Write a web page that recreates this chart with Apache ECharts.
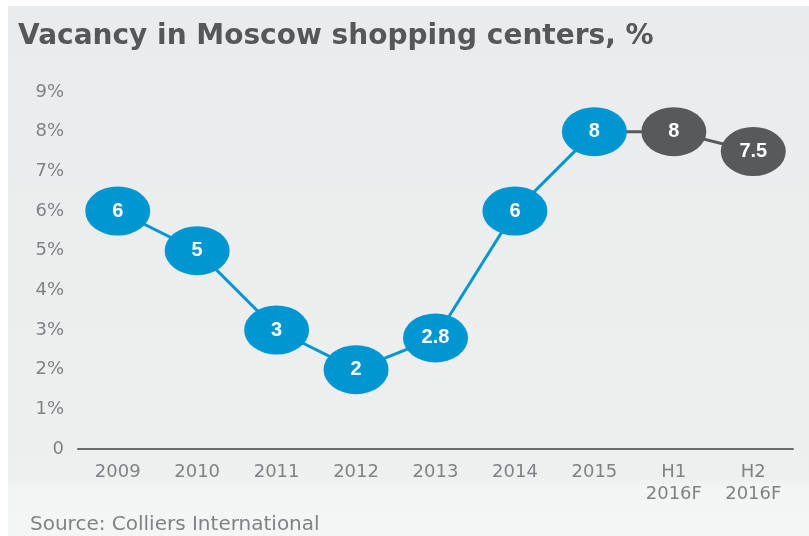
<!DOCTYPE html>
<html>
<head>
<meta charset="utf-8">
<script src="https://cdn.jsdelivr.net/npm/echarts@6/dist/echarts.min.js"></script>
<style>
  html, body { margin: 0; padding: 0; background: #fff; }
  #chart { position: absolute; left: 8px; top: 6px; width: 801px; height: 530px; }
</style>
</head>
<body>
<div id="chart"></div>
<script>
  const categories = ["2009", "2010", "2011", "2012", "2013", "2014", "2015", "H1\n2016F", "H2\n2016F"]
  const actual = [6, 5, 3, 2, 2.8, 6, 8]
  const forecast = [8, 7.5]
  const yTicks = [0, 1, 2, 3, 4, 5, 6, 7, 8, 9]

  const chart = echarts.init(document.getElementById("chart"))

  const blue = "#0096d2"
  const grey = "#58595b"
  const lastActual = actual.length - 1

  // forecast line starts from the last actual point (hidden marker there)
  const forecastData = [
    { value: [lastActual, actual[lastActual]], symbolSize: 0, label: { show: false } }
  ].concat(forecast.map((v, i) => [lastActual + 1 + i, v]))

  const options = {
    backgroundColor: new echarts.graphic.LinearGradient(0, 0, 0, 1, [
      { offset: 0, color: "#eaebec" },
      { offset: 0.89, color: "#eeefef" },
      { offset: 0.91, color: "#f3f4f4" },
      { offset: 1, color: "#f4f5f5" }
    ]),
    title: [
      {
        text: "Vacancy in Moscow shopping centers, %",
        left: 5,
        top: 12,
        textStyle: { fontFamily: "DejaVu Sans", fontWeight: "bold", fontSize: 28, color: "#565759" }
      },
      {
        text: "Source: Colliers International",
        left: 17,
        top: 504,
        textStyle: { fontFamily: "DejaVu Sans", fontWeight: "normal", fontSize: 20, color: "#808285" }
      }
    ],
    grid: {
      left: 70,
      right: 16,
      top: 86,
      bottom: 87
    },
    xAxis: {
      type: "category",
      data: categories,
      boundaryGap: true,
      axisLine: { lineStyle: { color: "#6b6c6e", width: 2 } },
      axisTick: { show: false },
      axisLabel: {
        margin: 12,
        fontFamily: "DejaVu Sans",
        fontSize: 18,
        lineHeight: 22,
        color: "#808285"
      }
    },
    yAxis: {
      type: "value",
      min: yTicks[0],
      max: yTicks[yTicks.length - 1],
      interval: 1,
      axisLine: { show: false },
      axisTick: { show: false },
      splitLine: { show: false },
      axisLabel: {
        margin: 14,
        fontFamily: "DejaVu Sans",
        fontSize: 18,
        color: "#808285",
        formatter: (v) => (v === 0 ? "0" : v + "%")
      }
    },
    series: [
      {
        name: "Forecast",
        type: "line",
        data: forecastData,
        symbol: "circle",
        symbolSize: [65, 49],
        z: 2,
        lineStyle: { color: grey, width: 3 },
        itemStyle: { color: grey },
        label: {
          show: true,
          position: "inside",
          formatter: (p) => p.value[1],
          fontFamily: "Liberation Sans",
          fontWeight: "bold",
          fontSize: 20,
          color: "#fff"
        }
      },
      {
        name: "Vacancy",
        type: "line",
        data: actual,
        symbol: "circle",
        symbolSize: [65, 49],
        z: 3,
        lineStyle: { color: blue, width: 3 },
        itemStyle: { color: blue },
        label: {
          show: true,
          position: "inside",
          fontFamily: "Liberation Sans",
          fontWeight: "bold",
          fontSize: 20,
          color: "#fff"
        }
      }
    ]
  }

  chart.setOption(options)
</script>
</body>
</html>
